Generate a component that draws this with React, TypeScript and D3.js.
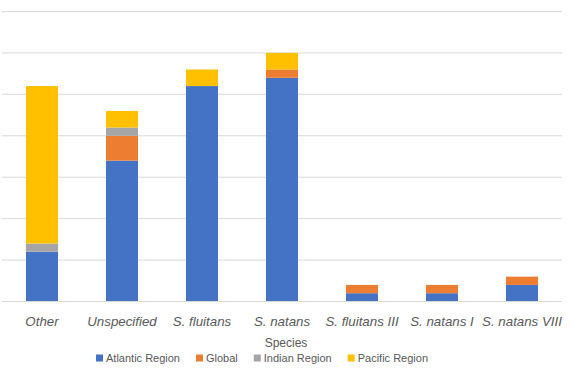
import React, { useEffect, useRef } from "react";
import * as d3 from "d3";

const categories = ["Other", "Unspecified", "S. fluitans", "S. natans", "S. fluitans III", "S. natans I", "S. natans VIII"];
const seriesNames = ["Atlantic Region", "Global", "Indian Region", "Pacific Region"];
const atlantic = [6, 17, 26, 27, 1, 1, 2];
const global = [0, 3, 0, 1, 1, 1, 1];
const indian = [1, 1, 0, 0, 0, 0, 0];
const pacific = [19, 2, 2, 2, 0, 0, 0];
const yTicks = [0, 5, 10, 15, 20, 25, 30, 35];
const colors = ["#4472C4", "#ED7D31", "#A5A5A5", "#FFC000"];
const axisTitle = "Species";

const W = 573;
const H = 376;

export default function App() {
  const ref = useRef<SVGSVGElement | null>(null);

  useEffect(() => {
    const svg = d3.select(ref.current);
    svg.selectAll("*").remove();

    const left = 2, right = 562, top = 11.5, bottom = 301.5;
    const x = d3.scaleBand<string>().domain(categories).range([left, right]).paddingInner(0.6).paddingOuter(0.3);
    const y = d3.scaleLinear().domain([0, 35]).range([bottom, top]);

    const rows = categories.map((c, i) => ({
      cat: c,
      "Atlantic Region": atlantic[i],
      Global: global[i],
      "Indian Region": indian[i],
      "Pacific Region": pacific[i],
    }));
    const stacked = d3.stack<any>().keys(seriesNames)(rows);

    svg.append("g")
      .selectAll("line")
      .data(yTicks)
      .join("line")
      .attr("x1", left)
      .attr("x2", right)
      .attr("y1", (d) => y(d))
      .attr("y2", (d) => y(d))
      .attr("stroke", "#d9d9d9")
      .attr("stroke-width", 1);

    svg.append("g")
      .selectAll("g")
      .data(stacked)
      .join("g")
      .attr("fill", (_d, i) => colors[i])
      .selectAll("rect")
      .data((d) => d)
      .join("rect")
      .attr("x", (d: any) => x(d.data.cat)!)
      .attr("width", x.bandwidth())
      .attr("y", (d: any) => y(d[1]))
      .attr("height", (d: any) => y(d[0]) - y(d[1]));

    svg.append("line")
      .attr("x1", left).attr("x2", right)
      .attr("y1", y(0)).attr("y2", y(0))
      .attr("stroke", "#d9d9d9").attr("stroke-width", 1);

    svg.append("g")
      .selectAll("text")
      .data(categories)
      .join("text")
      .attr("x", (d) => x(d)! + x.bandwidth() / 2)
      .attr("y", 326)
      .attr("text-anchor", "middle")
      .attr("font-family", "'Liberation Sans', Arial, sans-serif")
      .attr("font-style", "italic")
      .attr("font-size", 13.3)
      .attr("fill", "#595959")
      .text((d) => d);

    svg.append("text")
      .attr("x", 286)
      .attr("y", 347)
      .attr("text-anchor", "middle")
      .attr("font-family", "'Liberation Sans', Arial, sans-serif")
      .attr("font-size", 12)
      .attr("fill", "#595959")
      .text(axisTitle);

    const lg = svg.append("g");
    let cx = 96;
    seriesNames.forEach((name, i) => {
      lg.append("rect")
        .attr("x", cx).attr("y", 354.5)
        .attr("width", 7).attr("height", 7)
        .attr("fill", colors[i]);
      const t = lg.append("text")
        .attr("x", cx + 10)
        .attr("y", 362)
        .attr("font-family", "'Liberation Sans', Arial, sans-serif")
        .attr("font-size", 11)
        .attr("fill", "#595959")
        .text(name);
      const w = (t.node() as SVGTextElement).getComputedTextLength();
      cx = cx + 10 + w + 16;
    });
  }, []);

  return (
    <svg
      ref={ref}
      width={W}
      height={H}
      style={{ position: "absolute", left: 0, top: 0, background: "#fff" }}
    />
  );
}
